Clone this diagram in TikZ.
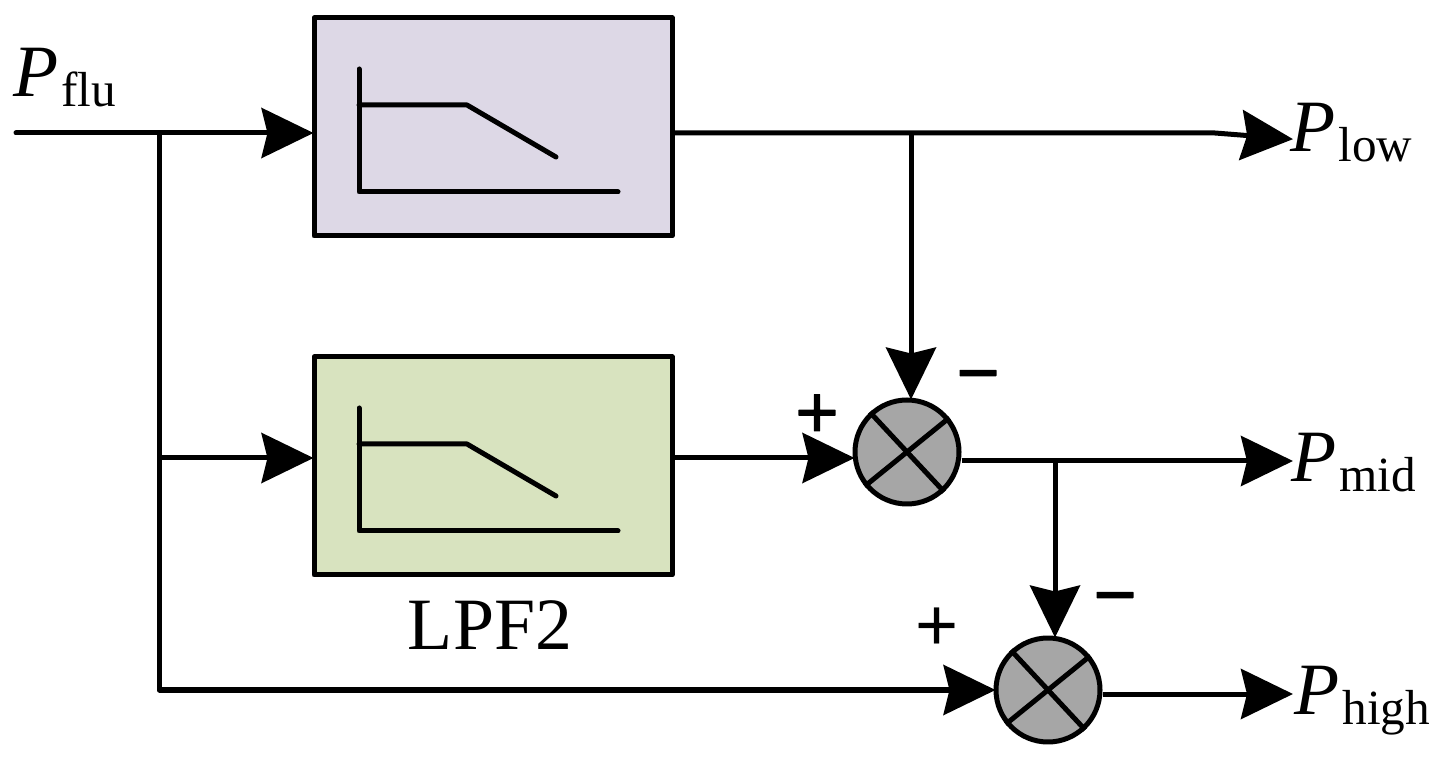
\documentclass[tikz,border=0pt]{standalone}
\usepackage{fontspec}
\setmainfont{Liberation Serif}
\newfontfamily\signfont{Liberation Sans}
\newfontfamily\signboldfont[FakeBold=1.6]{Liberation Sans}
\usetikzlibrary{calc,arrows.meta}
\definecolor{lpfpurple}{HTML}{DDD8E6}
\definecolor{lpfgreen}{HTML}{D8E3BF}
\definecolor{sumgray}{HTML}{A6A6A6}
\newcommand{\pname}[1]{\fontsize{21}{21}\selectfont\textit{P}\kern0.03cm\raisebox{-0.1cm}{\fontsize{14}{15}\selectfont #1}}
\tikzset{
    lpfbox/.style={draw, minimum width=3.58cm, minimum height=2.18cm},
    sumnode/.style={draw, circle, fill=sumgray, minimum size=1.04cm, inner sep=0pt},
    flow/.style={-{Stealth[length=0.52cm,width=0.5cm,inset=0.06cm]}, shorten >=-0.02cm},
    plabel/.style={anchor=base west, inner sep=0pt},
    sign/.style={inner sep=0pt, font=\signfont\fontsize{21}{21}\selectfont},
    boldsign/.style={inner sep=0pt, font=\signboldfont\fontsize{21}{21}\selectfont},
}
\begin{document}
\begin{tikzpicture}[line width=0.05cm, line join=round]
    \useasboundingbox (0,0) rectangle (14.46,7.59);

    \node[lpfbox, fill=lpfpurple] (lpf1) at (4.93,6.32) {};
    \node[lpfbox, fill=lpfgreen] (lpf2) at (4.93,2.93) {};
    \node[sumnode] (sum1) at (9.07,3.07) {};
    \node[sumnode] (sum2) at (10.48,0.69) {};

    \coordinate (in) at (0.16,6.26);
    \coordinate (j1) at (1.59,6.26);
    \coordinate (j2) at (1.59,3.01);
    \coordinate (j3) at (1.59,0.69);
    \coordinate (t1) at (9.11,6.26);
    \coordinate (t2) at (10.55,2.98);
    \coordinate (kink) at (12.15,6.26);
    \coordinate (out1) at (12.91,6.20);
    \coordinate (out2) at (12.91,2.98);
    \coordinate (out3) at (12.91,0.65);

    % Filter curves
    \foreach \b in {lpf1,lpf2} {
        \draw[line cap=round] ($(\b.center)+(-1.34,0.58)$) -- ($(\b.center)+(-1.34,-0.65)$) -- ($(\b.center)+(1.25,-0.65)$);
        \draw[line cap=round] ($(\b.center)+(-1.34,0.22)$) -- ($(\b.center)+(-0.26,0.22)$) -- ($(\b.center)+(0.63,-0.30)$);
    }

    % Crosses
    \foreach \s in {sum1,sum2} {
        \draw (\s.133) -- (\s.-47);
        \draw (\s.219) -- (\s.39);
    }

    % Connectors
    \draw[flow, line cap=round] (in) -- (lpf1.west |- in);
    \draw[flow] (j1) -- (j3) -- (sum2.west |- j3);
    \draw[flow] (j2) -- (lpf2.west |- j2);
    \draw[flow] (lpf1.east |- t1) -- (kink) -- (out1);
    \draw[flow] (t1) -- (t1 |- sum1.north);
    \draw[flow] (lpf2.east |- j2) -- (sum1.west |- j2);
    \draw[flow] (sum1.east |- out2) -- (out2);
    \draw[flow] (t2) -- (t2 |- sum2.north);
    \draw[flow] (sum2.east |- out3) -- (out3);

    \node[plabel] (pflu) at (0.11,6.62) {\pname{flu}};
    \node[plabel] (plow) at (12.88,6.07) {\pname{low}};
    \node[plabel] (pmid) at (12.89,2.77) {\pname{mid}};
    \node[plabel] (phigh) at (12.92,0.45) {\pname{high}};
    \node[anchor=base, inner sep=0pt, font=\fontsize{21}{21}\selectfont] (lpflabel) at (4.90,1.09) {LPF2};

    \node[boldsign] (plus1) at (8.17,3.43) {+};
    \node[sign] (plus2) at (9.37,1.30) {+};
    \node[boldsign] (minus1) at (9.78,3.75) {−};
    \node[boldsign] (minus2) at (11.15,1.53) {−};
\end{tikzpicture}
\end{document}
